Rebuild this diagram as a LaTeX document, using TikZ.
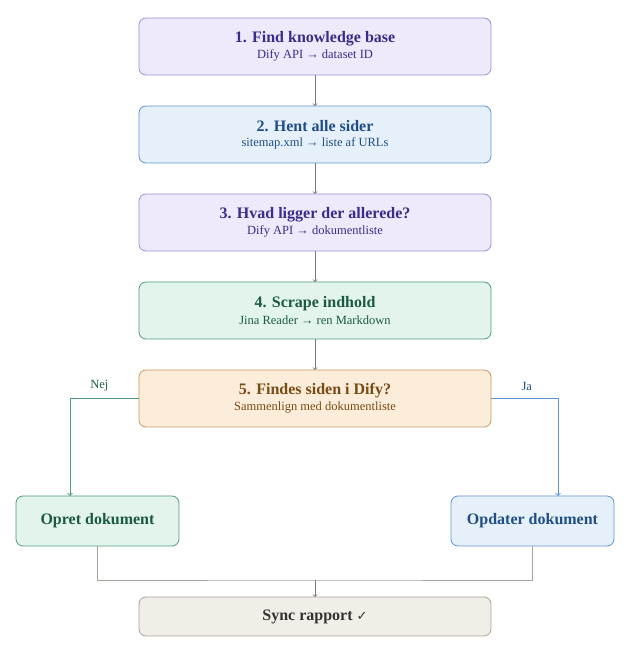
\documentclass[tikz,border=0pt]{standalone}
\usepackage{fontspec}
\setmainfont{Liberation Serif}
\newfontfamily\symfont{DejaVu Sans}
\usetikzlibrary{positioning}
\definecolor{PurpleFill}{HTML}{EEEAFB}\definecolor{PurpleLine}{HTML}{9C8FD8}\definecolor{PurpleText}{HTML}{3D2B8A}
\definecolor{BlueFill}{HTML}{E6F0FB}\definecolor{BlueLine}{HTML}{5E93CF}\definecolor{BlueText}{HTML}{1F4E85}
\definecolor{GreenFill}{HTML}{E2F4EC}\definecolor{GreenLine}{HTML}{4F9C7C}\definecolor{GreenText}{HTML}{1C5A40}
\definecolor{OrangeFill}{HTML}{FBEDDA}\definecolor{OrangeLine}{HTML}{C8995E}\definecolor{OrangeText}{HTML}{7A4A14}
\definecolor{GrayFill}{HTML}{F1EEE7}\definecolor{GrayLine}{HTML}{A8A39A}\definecolor{ArrowGray}{HTML}{7A7A7A}
\tikzset{
  box/.style={draw, rounded corners=7pt, line width=0.8pt, minimum width=352pt, minimum height=57pt, align=center, outer sep=0pt},
  side/.style={box, minimum width=163pt, minimum height=50pt},
  purple/.style={fill=PurpleFill, draw=PurpleLine, text=PurpleText},
  blue/.style={fill=BlueFill, draw=BlueLine, text=BlueText},
  green/.style={fill=GreenFill, draw=GreenLine, text=GreenText},
  orange/.style={fill=OrangeFill, draw=OrangeLine, text=OrangeText},
  gray/.style={fill=GrayFill, draw=GrayLine, text=black!80},
  flow/.style={->, ArrowGray, line width=0.8pt},
}
\newcommand{\ttl}[1]{{\fontsize{16}{19}\selectfont\bfseries #1}}
\newcommand{\sub}[1]{{\fontsize{12.5}{15}\selectfont #1}}
\newcommand{\arr}{→}
\begin{document}
\begin{tikzpicture}[x=1pt,y=1pt]
\useasboundingbox (0,0) rectangle (628,650);

\node[box,purple] (find) at (315,603.5) {\ttl{1. Find knowledge base}\\[3pt]\sub{Dify API \arr{} dataset ID}};
\node[box,blue,below=31pt of find] (sider) {\ttl{2. Hent alle sider}\\[3pt]\sub{sitemap.xml \arr{} liste af URLs}};
\node[box,purple,below=31pt of sider] (ligger) {\ttl{3. Hvad ligger der allerede?}\\[3pt]\sub{Dify API \arr{} dokumentliste}};
\node[box,green,below=31pt of ligger] (scrape) {\ttl{4. Scrape indhold}\\[3pt]\sub{Jina Reader \arr{} ren Markdown}};
\node[box,orange,below=31pt of scrape] (findes) {\ttl{5. Findes siden i Dify?}\\[3pt]\sub{Sammenlign med dokumentliste}};

\node[side,green] (opret) at (97.5,129) {\ttl{Opret dokument}};
\node[side,blue] (opdater) at (532.5,129) {\ttl{Opdater dokument}};
\node[box,gray,minimum height=39pt] (sync) at (315,33.5) {\ttl{Sync rapport {\symfont\fontsize{13}{13}\selectfont ✓}}};

\draw[flow] (find) -- (sider);
\draw[flow] (sider) -- (ligger);
\draw[flow] (ligger) -- (scrape);
\draw[flow] (scrape) -- (findes);

\draw[->, GreenLine, line width=1pt] (findes.west) -| ([xshift=-27.5pt]opret.north);
\draw[->, BlueLine, line width=1pt] (findes.east) -| ([xshift=25.5pt]opdater.north);
\node[GreenText, above left=4pt and 27pt of findes.west] (nejlbl) {\sub{Nej}};
\node[BlueText, above right=4pt and 27pt of findes.east] (jalbl) {\sub{Ja}};

\coordinate (merge) at (315,70);
\draw[GrayLine, line width=0.8pt] (opret.south) |- (merge) -| (opdater.south);
\draw[flow] (merge) -- (sync);
\end{tikzpicture}
\end{document}
